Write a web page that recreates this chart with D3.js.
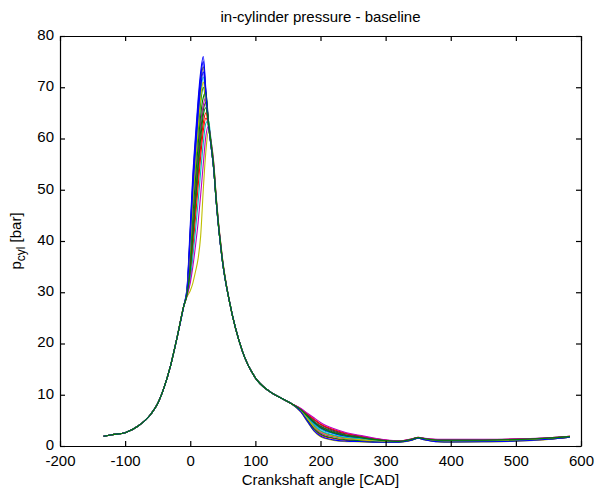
<!DOCTYPE html>
<html>
<head>
<meta charset="utf-8">
<script src="https://cdn.jsdelivr.net/npm/d3@7"></script>
<style>
  body { margin: 0; background: #fff; }
  svg { display: block; font-family: "Liberation Sans", Arial, sans-serif; }
  .axis path, .axis line { stroke: #000; stroke-width: 1.2; }
  .axis text { font-size: 15px; fill: #000; }
</style>
</head>
<body>
<svg id="chart" width="596" height="489"></svg>
<script>
// crank angles [CAD] and in-cylinder pressure [bar]
const anglesCompression = [-133, -120, -100, -80, -60, -50, -40, -30, -20, -10];
const pCompression = [1.9, 2.2, 2.6, 3.9, 6.3, 8.3, 11.5, 15.8, 21.3, 27.3];

const anglesCombustion = [-5, 0, 4, 8, 12, 16, 20, 24, 28, 32, 36, 40, 50];
const pCombustion = [
  [30.8, 43.0, 53.0, 60.5, 67.5, 73.0, 76.0, 69.5, 63.0, 58.5, 54.0, 47.5, 35.5],
  [29.8, 38.0, 47.0, 54.5, 61.0, 67.0, 70.0, 67.0, 62.5, 58.5, 54.0, 47.5, 35.5],
  [29.5, 34.0, 40.0, 46.5, 52.5, 58.5, 63.0, 65.0, 62.5, 59.0, 54.6, 47.9, 35.8],
  [30.0, 40.0, 49.5, 57.0, 63.5, 69.0, 72.0, 68.0, 62.5, 58.5, 54.0, 47.5, 35.5],
  [29.7, 36.0, 43.5, 50.5, 57.0, 63.0, 66.5, 68.0, 63.5, 59.0, 54.5, 47.8, 35.6],
  [29.1, 30.3, 31.8, 34.0, 36.5, 41.0, 50.0, 57.5, 61.5, 59.5, 55.5, 48.5, 36.2],
  [30.3, 41.5, 51.0, 58.5, 65.5, 71.0, 74.0, 69.0, 63.0, 58.5, 54.0, 47.5, 35.5],
  [30.6, 42.0, 52.0, 59.5, 66.5, 72.0, 75.0, 69.0, 63.0, 58.5, 54.0, 47.5, 35.5],
  [29.7, 37.0, 45.0, 52.0, 58.5, 64.5, 68.0, 69.0, 63.5, 58.8, 54.2, 47.6, 35.6],
  [29.4, 33.0, 38.5, 44.5, 50.5, 56.5, 61.5, 64.0, 62.5, 59.0, 54.8, 48.0, 35.8],
  [29.4, 32.5, 37.0, 42.0, 47.5, 53.5, 59.0, 63.0, 63.5, 59.5, 55.0, 48.2, 35.9],
  [29.3, 31.8, 35.0, 39.0, 43.5, 49.0, 55.0, 60.5, 62.5, 59.5, 55.2, 48.3, 36.0],
  [29.9, 39.0, 48.0, 55.5, 62.0, 68.0, 71.0, 67.5, 62.5, 58.5, 54.0, 47.5, 35.5],
  [29.6, 35.0, 42.0, 49.0, 55.5, 61.5, 65.5, 67.0, 63.0, 59.0, 54.5, 47.8, 35.7],
  [30.1, 40.5, 50.0, 57.5, 64.5, 70.0, 73.0, 68.5, 62.5, 58.5, 54.0, 47.5, 35.5],
  [29.6, 34.5, 41.0, 47.5, 54.0, 60.0, 64.5, 66.0, 63.0, 59.0, 54.5, 47.8, 35.7]
];

const anglesExpansion = [60, 80, 100, 120, 140, 155];
const pExpansion = [28.3, 18.5, 13.3, 10.8, 9.3, 8.3];

const anglesExhaust = [170, 180, 190, 200, 220, 240, 260, 280, 300, 320, 340, 350, 360, 380, 400, 450, 500, 550, 583];
const pExhaust = [
  [6.9, 5.4, 3.9, 2.9, 2.0, 1.55, 1.3, 1.05, 0.9, 0.85, 1.2, 1.58, 1.32, 1.0, 0.97, 1.0, 1.13, 1.42, 1.78],
  [7.1, 5.9, 4.7, 3.8, 2.7, 2.1, 1.7, 1.33, 1.05, 0.93, 1.31, 1.64, 1.41, 1.15, 1.14, 1.15, 1.27, 1.51, 1.84],
  [6.7, 5.0, 3.3, 2.2, 1.45, 1.1, 1.0, 0.84, 0.78, 0.79, 1.15, 1.53, 1.25, 0.88, 0.83, 0.88, 1.02, 1.35, 1.73],
  [7.0, 5.6, 4.3, 3.3, 2.4, 1.8, 1.5, 1.2, 0.98, 0.89, 1.27, 1.61, 1.37, 1.08, 1.05, 1.08, 1.2, 1.47, 1.81],
  [6.8, 5.2, 3.7, 2.6, 1.8, 1.4, 1.2, 0.97, 0.85, 0.83, 1.19, 1.56, 1.29, 0.95, 0.92, 0.95, 1.09, 1.39, 1.76],
  [6.6, 4.7, 2.9, 1.8, 1.1, 0.85, 0.8, 0.7, 0.7, 0.75, 1.1, 1.5, 1.2, 0.8, 0.75, 0.8, 0.95, 1.3, 1.9],
  [7.2, 6.1, 5.1, 4.2, 3.05, 2.35, 1.9, 1.47, 1.13, 0.96, 1.36, 1.67, 1.46, 1.23, 1.22, 1.23, 1.33, 1.56, 1.87],
  [7.0, 5.7, 4.5, 3.5, 2.5, 1.9, 1.6, 1.24, 1.0, 0.9, 1.28, 1.62, 1.38, 1.1, 1.08, 1.1, 1.22, 1.48, 1.82],
  [6.75, 5.05, 3.4, 2.35, 1.55, 1.2, 1.05, 0.88, 0.8, 0.8, 1.16, 1.54, 1.26, 0.9, 0.86, 0.9, 1.04, 1.36, 1.74],
  [7.25, 6.2, 5.25, 4.3, 3.2, 2.45, 2.0, 1.5, 1.15, 0.98, 1.37, 1.68, 1.47, 1.25, 1.25, 1.25, 1.36, 1.57, 1.88],
  [6.9, 5.5, 4.1, 3.05, 2.15, 1.65, 1.4, 1.1, 0.93, 0.86, 1.24, 1.59, 1.34, 1.03, 1.0, 1.03, 1.15, 1.44, 1.79],
  [7.3, 6.4, 5.5, 4.6, 3.4, 2.6, 2.1, 1.6, 1.2, 1.0, 1.4, 1.7, 1.5, 1.3, 1.3, 1.3, 1.4, 1.6, 1.9],
  [6.85, 5.3, 3.8, 2.8, 1.9, 1.45, 1.25, 1.02, 0.88, 0.84, 1.21, 1.57, 1.31, 0.98, 0.94, 0.98, 1.11, 1.41, 1.77],
  [7.1, 6.0, 4.85, 3.9, 2.85, 2.15, 1.8, 1.38, 1.08, 0.94, 1.33, 1.65, 1.43, 1.18, 1.16, 1.18, 1.29, 1.6, 1.85],
  [6.65, 4.8, 3.0, 1.95, 1.2, 0.95, 0.87, 0.75, 0.73, 0.76, 1.12, 1.51, 1.22, 0.83, 0.78, 0.83, 0.97, 1.32, 1.71],
  [7.05, 5.8, 4.6, 3.6, 2.6, 2.0, 1.65, 1.29, 1.03, 0.91, 1.3, 1.63, 1.4, 1.13, 1.11, 1.13, 1.24, 1.5, 1.83]
];

// MATLAB default line colour order, cycled over the cycles
const colorOrder = ["#0000ff", "#008000", "#ff0000", "#00bfbf", "#bf00bf", "#bfbf00", "#404040"];

const xTicks = [-200, -100, 0, 100, 200, 300, 400, 500, 600];
const yTicks = [0, 10, 20, 30, 40, 50, 60, 70, 80];

const marginLeft = 60, marginRight = 15, marginTop = 36, marginBottom = 43;
const width = 596, height = 489;

const svg = d3.select("#chart");

const x = d3.scaleLinear().domain([-200, 600]).range([marginLeft, width - marginRight]);
const y = d3.scaleLinear().domain([0, 80]).range([height - marginBottom, marginTop]);

const cycles = pCombustion.map((row, i) => {
  const pts = [];
  anglesCompression.forEach((a, j) => pts.push([a, pCompression[j]]));
  anglesCombustion.forEach((a, j) => pts.push([a, row[j]]));
  anglesExpansion.forEach((a, j) => pts.push([a, pExpansion[j]]));
  anglesExhaust.forEach((a, j) => pts.push([a, pExhaust[i][j]]));
  return pts;
});

const line = d3.line()
  .x((d) => x(d[0]))
  .y((d) => y(d[1]))
  .curve(d3.curveMonotoneX);

svg.append("g")
  .selectAll("path")
  .data(cycles)
  .join("path")
  .attr("fill", "none")
  .attr("stroke", (d, i) => colorOrder[i % colorOrder.length])
  .attr("stroke-width", 1.1)
  .attr("d", line);

const fmt = (d) => String(d);

// box with inward ticks on all four sides
svg.append("g")
  .attr("class", "axis")
  .attr("transform", `translate(0,${height - marginBottom})`)
  .call(d3.axisBottom(x).tickValues(xTicks).tickFormat(fmt).tickSizeInner(-5).tickSizeOuter(0).tickPadding(9))
  .call((g) => g.selectAll("text").attr("dy", "0.71em"));

svg.append("g")
  .attr("class", "axis")
  .attr("transform", `translate(0,${marginTop})`)
  .call(d3.axisTop(x).tickValues(xTicks).tickSizeInner(-5).tickSizeOuter(0).tickFormat(""));

svg.append("g")
  .attr("class", "axis")
  .attr("transform", `translate(${marginLeft},0)`)
  .call(d3.axisLeft(y).tickValues(yTicks).tickFormat(fmt).tickSizeInner(-5).tickSizeOuter(0).tickPadding(6))
  .call((g) => g.selectAll("text").attr("dy", "0.22em"));

svg.append("g")
  .attr("class", "axis")
  .attr("transform", `translate(${width - marginRight},0)`)
  .call(d3.axisRight(y).tickValues(yTicks).tickSizeInner(-5).tickSizeOuter(0).tickFormat(""));

svg.append("text")
  .attr("x", (marginLeft + width - marginRight) / 2)
  .attr("y", 22)
  .attr("text-anchor", "middle")
  .attr("font-size", 15)
  .text("in-cylinder pressure - baseline");

svg.append("text")
  .attr("x", (marginLeft + width - marginRight) / 2)
  .attr("y", 485)
  .attr("text-anchor", "middle")
  .attr("font-size", 15)
  .text("Crankshaft angle [CAD]");

const ylab = svg.append("text")
  .attr("transform", `translate(21,${(marginTop + height - marginBottom) / 2}) rotate(-90)`)
  .attr("text-anchor", "middle")
  .attr("font-size", 15);
ylab.append("tspan").text("p");
ylab.append("tspan").attr("dy", 4).attr("font-size", 12).text("cyl");
ylab.append("tspan").attr("dy", -4).text(" [bar]");
</script>
</body>
</html>
